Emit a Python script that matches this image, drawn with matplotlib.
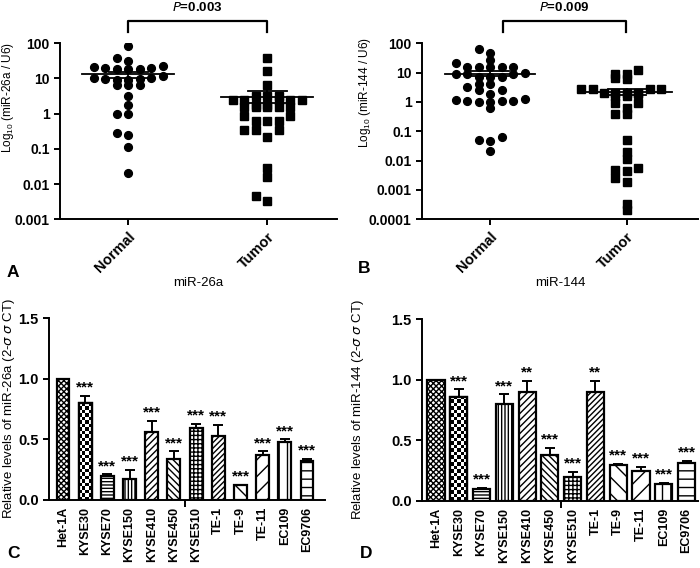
import numpy as np
import matplotlib
matplotlib.use("Agg")
import matplotlib.pyplot as plt
import matplotlib.transforms as mtrans

plt.rcParams['font.family'] = ['Liberation Sans', 'DejaVu Sans']
plt.rcParams['mathtext.default'] = 'regular'
plt.rcParams['hatch.linewidth'] = 1.0

# ---- data ----
groups = ['Normal', 'Tumor']

a_normal = [85, 37, 31, 22, 20, 19, 18, 19, 20, 21, 12, 9.5, 9, 10, 10,
            9, 9.5, 6.5, 6.5, 6.5, 3.1, 1.77, 1.0, 1.0, 0.25, 0.28,
            0.11, 0.021]
a_tumor = [39, 16.3, 6.4, 3.2, 3.2, 3.2, 2.4, 2.4, 2.4, 2.4, 2.4, 1.8, 1.8,
           1.5, 1.5, 1.5, 1.5, 1.5, 0.85, 0.85, 0.6, 0.6, 0.6, 0.35, 0.35,
           0.35, 0.22, 0.029, 0.016, 0.0047, 0.0032]
a_mean = [13, 3.0]
a_sem = [(10.5, 15.5), (2.0, 4.4)]

b_normal = [61, 44.5, 26.3, 21, 15, 15, 15, 15, 15, 9.2, 9.2, 10, 9, 7, 7,
            7, 4.2, 4.2, 3.2, 2.5, 2.5, 1.9, 1.3, 1.1, 1.1, 1.0, 1.0, 1.1,
            1.2, 0.64, 0.066, 0.05, 0.048, 0.021]
b_tumor = [12, 8.7, 8.7, 6.2, 6.5, 2.8, 2.8, 2.8, 2.8, 1.8, 2.0, 2.0, 2.0,
           2.0, 1.6, 1.6, 0.9, 0.9, 0.6, 0.4, 0.4, 0.051, 0.019, 0.011,
           0.0055, 0.0045, 0.0046, 0.0026, 0.0019, 0.00034, 0.0002]
b_mean = [9.2, 2.1]
b_sem = [(7.5, 11.0), (1.7, 2.7)]

cells = ['Het-1A', 'KYSE30', 'KYSE70', 'KYSE150', 'KYSE410', 'KYSE450',
         'KYSE510', 'TE-1', 'TE-9', 'TE-11', 'EC109', 'EC9706']
c_vals = [1.0, 0.80, 0.20, 0.17, 0.56, 0.34, 0.59, 0.53, 0.12, 0.37, 0.48, 0.32]
c_err = [0.0, 0.06, 0.01, 0.08, 0.09, 0.06, 0.04, 0.09, 0.005, 0.03, 0.02, 0.02]
c_sig = ['', '***', '***', '***', '***', '***', '***', '***', '***', '***', '***', '***']

d_vals = [1.0, 0.86, 0.10, 0.80, 0.90, 0.38, 0.20, 0.90, 0.30, 0.25, 0.14, 0.31]
d_err = [0.0, 0.06, 0.01, 0.08, 0.09, 0.06, 0.04, 0.09, 0.005, 0.03, 0.01, 0.02]
d_sig = ['', '***', '***', '***', '**', '***', '***', '**', '***', '***', '***', '***']

# None -> checkerboard fill
hatches = ['xxxxxx', None, '-----', '|||||', '/////', '\\\\\\\\\\', '++++',
           '//////', '\\\\', '//', '||', '--']


def swarm(values, px_per_unit, px_per_decade, step_px=11.5, bin_px=8.0):
    # GraphPad-like rows: points in the same row go centre, left, right, ...
    rows = np.floor(np.log10(values) * px_per_decade / bin_px)
    offs = np.zeros(len(values))
    for r in np.unique(rows):
        idx = np.where(rows == r)[0]
        idx = idx[np.argsort(np.array(values)[idx])]
        for j, i in enumerate(idx):
            col = (j + 1) // 2 * (-1 if j % 2 else 1)
            offs[i] = col * step_px / px_per_unit
    return offs


def style_axes(ax):
    for s in ['top', 'right']:
        ax.spines[s].set_visible(False)
    for s in ['left', 'bottom']:
        ax.spines[s].set_linewidth(1.4)
    for t in ax.get_yticklabels():
        t.set_fontweight('bold')


def scatter_panel(ax, normal, tumor, mean, sem, ylim, px_unit, decade_px, label,
                  pval, bracket, xlim, ylab_pos):
    for xi, vals, mk in [(0, normal, 'o'), (1, tumor, 's')]:
        vals = np.array(vals)
        off = swarm(vals, px_unit, decade_px)
        ax.plot(xi + off, vals, mk, color='black', ms=5.6 if mk == 'o' else 5.2,
                linestyle='none')
        ax.plot([xi - 0.33, xi + 0.33], [mean[xi]] * 2, color='black', lw=1.3)
        lo, hi = sem[xi]
        ax.plot([xi, xi], [lo, hi], color='black', lw=1.3)
        ax.plot([xi - 0.14, xi + 0.14], [lo] * 2, color='black', lw=1.3)
        ax.plot([xi - 0.14, xi + 0.14], [hi] * 2, color='black', lw=1.3)
    ax.set_yscale('log')
    ax.set_ylim(*ylim)
    ax.set_xlim(*xlim)
    ax.yaxis.set_minor_locator(matplotlib.ticker.NullLocator())
    ax.yaxis.set_major_formatter(matplotlib.ticker.FuncFormatter(
        lambda v, p: ('%g' % v) if v >= 1 else ('%.10f' % v).rstrip('0')))
    ax.set_xticks([0, 1])
    ax.set_xticklabels(groups, rotation=45, ha='right', rotation_mode='anchor',
                       fontsize=10.5, fontweight='bold')
    ax.tick_params(axis='y', labelsize=10, width=1.4, length=4)
    ax.tick_params(axis='x', width=1.4, length=4)
    style_axes(ax)
    ax.set_ylabel('Log$_{10}$ (%s / U6)' % label, fontsize=8.5, va='center')
    ax.yaxis.set_label_coords(*ylab_pos)
    ax.set_xlabel(label, fontsize=9.5, labelpad=1)
    tr = mtrans.blended_transform_factory(ax.transData, ax.transAxes)
    x0, x1 = bracket
    ax.plot([x0, x0, x1, x1], [1.063, 1.125, 1.125, 1.063], color='black', lw=1.6,
            transform=tr, clip_on=False)
    ax.text((x0 + x1) / 2, 1.205, '$\\it{P}$=%s' % pval, transform=tr,
            ha='center', va='center', fontsize=9.5, fontweight='bold')


def checker(ax, patch, cell_px=3.5):
    bb = patch.get_window_extent()
    nx = max(2, int(round(bb.width / cell_px)))
    ny = max(2, int(round(bb.height / cell_px)))
    img = np.indices((ny, nx)).sum(axis=0) % 2
    x0, y0 = patch.get_x(), patch.get_y()
    im = ax.imshow(img, cmap='gray_r', extent=(x0, x0 + patch.get_width(), y0,
                   y0 + patch.get_height()), aspect='auto',
                   interpolation='nearest', zorder=2.5)
    im.set_clip_path(patch)


def bar_panel(ax, vals, errs, sig, width, xlim, label, ylab_pos):
    x = np.arange(len(cells))
    ax.set_ylim(0, 1.5)
    ax.set_xlim(*xlim)
    ax.errorbar(x, vals, yerr=[np.zeros(len(errs)), errs], fmt='none',
                ecolor='black', elinewidth=1.4, capsize=3.5, capthick=1.4, zorder=1)
    for i in range(len(cells)):
        bars = ax.bar(x[i], vals[i], width=width, facecolor='white',
                      edgecolor='black', linewidth=1.6, hatch=hatches[i], zorder=2)
        if hatches[i] is None:
            checker(ax, bars[0])
            ax.bar(x[i], vals[i], width=width, facecolor='none',
                   edgecolor='black', linewidth=1.6, zorder=3)
        if sig[i]:
            ax.text(x[i], vals[i] + errs[i] + 0.035, sig[i], ha='center',
                    va='baseline', fontsize=11, fontweight='bold')
    ax.set_ylim(0, 1.5)
    ax.set_xlim(*xlim)
    ax.set_yticks([0.0, 0.5, 1.0, 1.5])
    ax.yaxis.set_major_formatter(matplotlib.ticker.FormatStrFormatter('%.1f'))
    ax.set_xticks(x)
    ax.set_xticklabels(cells, rotation=90, fontsize=9, fontweight='bold')
    ax.set_xticks([5.5], minor=True)
    ax.tick_params(axis='x', which='major', length=0, pad=5)
    ax.tick_params(axis='x', which='minor', length=5, width=1.4)
    ax.tick_params(axis='y', labelsize=10.5, width=1.4, length=4)
    style_axes(ax)
    ax.set_ylabel('Relative levels of %s (2-$\\it{\\sigma}$ $\\it{\\sigma}$ CT)' % label,
                  fontsize=9.5, va='center')
    ax.yaxis.set_label_coords(*ylab_pos)


fig = plt.figure(figsize=(7.0, 5.68), dpi=100)

axA = fig.add_axes([0.086, 0.614, 0.395, 0.31])
scatter_panel(axA, a_normal, a_tumor, a_mean, a_sem, (0.001, 100), 139, 35.2,
              'miR-26a', '0.003', (0.0, 1.0), (-0.49, 1.5), (-0.19, 0.69))
axB = fig.add_axes([0.603, 0.614, 0.394, 0.31])
scatter_panel(axB, b_normal, b_tumor, b_mean, b_sem, (0.0001, 100), 137, 29.3,
              'miR-144', '0.009', (0.09, 0.99), (-0.5, 1.52), (-0.207, 0.72))

axC = fig.add_axes([0.070, 0.120, 0.394, 0.320])
bar_panel(axC, c_vals, c_err, c_sig, 0.58, (-0.63, 11.8), 'miR-26a', (-0.145, 0.505))
axD = fig.add_axes([0.603, 0.118, 0.394, 0.320])
bar_panel(axD, d_vals, d_err, d_sig, 0.75, (-0.61, 11.5), 'miR-144', (-0.232, 0.505))

for letter, xp, yp in [('A', 0.01, 0.521), ('B', 0.511, 0.527),
                       ('C', 0.01, 0.026), ('D', 0.514, 0.026)]:
    fig.text(xp, yp, letter, fontsize=12.5, fontweight='bold', ha='left',
             va='center')

fig.savefig('out.png', dpi=100)
